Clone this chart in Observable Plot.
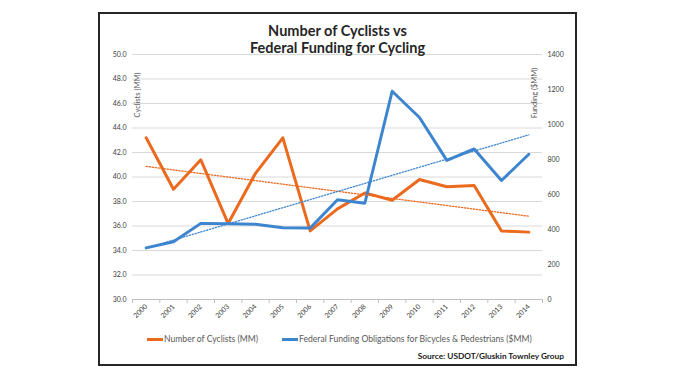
<!DOCTYPE html>
<html><head><meta charset="utf-8">
<script src="https://cdn.jsdelivr.net/npm/d3@7"></script>
<script src="https://cdn.jsdelivr.net/npm/@observablehq/plot@0.6"></script>
<style>
body{margin:0;background:#fff;}
#wrap{position:relative;width:676px;height:380px;overflow:hidden;font-family:Lato,"Open Sans",sans-serif;background:#fff;}
#frame{position:absolute;left:98px;top:12px;width:475px;height:350px;border:2px solid #262626;}
#chart{position:absolute;left:0;top:0;}
#title{position:absolute;left:98px;width:479px;top:22px;text-align:center;font-weight:bold;font-size:14.5px;line-height:17px;color:#262626;}
.ytitle{position:absolute;white-space:nowrap;font-size:7.5px;color:#595959;transform:translate(-50%,-50%) rotate(-90deg);}
.leg{position:absolute;font-size:8.6px;color:#595959;white-space:nowrap;line-height:10px;}
.sw{position:absolute;height:3px;width:16px;}
#source{position:absolute;right:112px;top:351px;font-size:8.3px;font-weight:bold;color:#1a1a1a;white-space:nowrap;line-height:11px;}
</style></head>
<body>
<div id="wrap">
  <div id="frame"></div>
  <div id="chart"></div>
  <div id="title">Number of Cyclists vs<br>Federal Funding for Cycling</div>
  <div class="ytitle" style="left:137px;top:95px;">Cyclists (MM)</div>
  <div class="ytitle" style="left:534px;top:93px;">Funding ($MM)</div>
  <div class="sw" style="left:147px;top:338px;background:#EC6A1E;"></div>
  <div class="leg" style="left:164px;top:334px;">Number of Cyclists (MM)</div>
  <div class="sw" style="left:282px;top:338px;background:#3D86CF;"></div>
  <div class="leg" style="left:299px;top:334px;">Federal Funding Obligations for Bicycles &amp; Pedestrians ($MM)</div>
  <div id="source">Source: USDOT/Gluskin Townley Group</div>
</div>
<script>
const years    = [2000,2001,2002,2003,2004,2005,2006,2007,2008,2009,2010,2011,2012,2013,2014];
const cyclists = [43.2,39.0,41.4,36.2,40.3,43.2,35.6,37.4,38.7,38.1,39.8,39.2,39.3,35.6,35.5];
const funding  = [295,330,435,433,430,410,408,570,550,1190,1040,795,860,680,830];
const leftTicks  = [30,32,34,36,38,40,42,44,46,48,50];
const rightTicks = [0,200,400,600,800,1000,1200,1400];

const ORANGE = "#EC6A1E", BLUE = "#3D86CF";
// map funding onto the left (cyclist) scale: 0..1400 -> 30..50
const toLeft = f => 30 + f * 20 / 1400;
const toRight = v => (v - 30) * 1400 / 20;

const data = years.map((y, i) => ({year: y, c: cyclists[i], f: toLeft(funding[i])}));
const bounds = [years[0] - 0.5, ...years.map(y => y + 0.5)];

const plot = Plot.plot({
  width: 676, height: 380,
  marginLeft: 132, marginRight: 134, marginTop: 54, marginBottom: 81,
  style: {background: "transparent", fontFamily: "Lato, 'Open Sans', sans-serif", color: "#595959"},
  x: {domain: [years[0] - 0.5, years[years.length - 1] + 0.5]},
  y: {domain: [30, 50]},
  marks: [
    Plot.gridY(leftTicks, {stroke: "#d9d9d9", strokeOpacity: 1}),
    Plot.ruleY([30], {stroke: "#bfbfbf"}),
    Plot.axisX({ticks: bounds, tickSize: 4, tickFormat: () => "", stroke: "#bfbfbf", label: null}),
    Plot.axisX({ticks: years, tickSize: 0, tickPadding: 6, tickRotate: -45, tickFormat: d => String(d), fontSize: 7, fill: "#404040", label: null}),
    Plot.axisY({anchor: "left", ticks: leftTicks, tickSize: 0, tickPadding: 6, tickFormat: d => d.toFixed(1), fontSize: 7, fill: "#404040", label: null}),
    Plot.axisY({anchor: "right", ticks: rightTicks.map(toLeft), tickSize: 0, tickPadding: 5, tickFormat: v => String(Math.round(toRight(v))), fontSize: 7, fill: "#404040", label: null}),
    Plot.line(data, {x: "year", y: "c", stroke: ORANGE, strokeWidth: 3, strokeLinejoin: "round"}),
    Plot.line(data, {x: "year", y: "f", stroke: BLUE, strokeWidth: 3, strokeLinejoin: "round"}),
    Plot.linearRegressionY(data, {x: "year", y: "c", stroke: ORANGE, ci: 0, strokeWidth: 1.3, strokeDasharray: "1.3,1.7"}),
    Plot.linearRegressionY(data, {x: "year", y: "f", stroke: BLUE, ci: 0, strokeWidth: 1.3, strokeDasharray: "1.3,1.7"})
  ]
});
document.getElementById("chart").appendChild(plot);
</script>
</body></html>
